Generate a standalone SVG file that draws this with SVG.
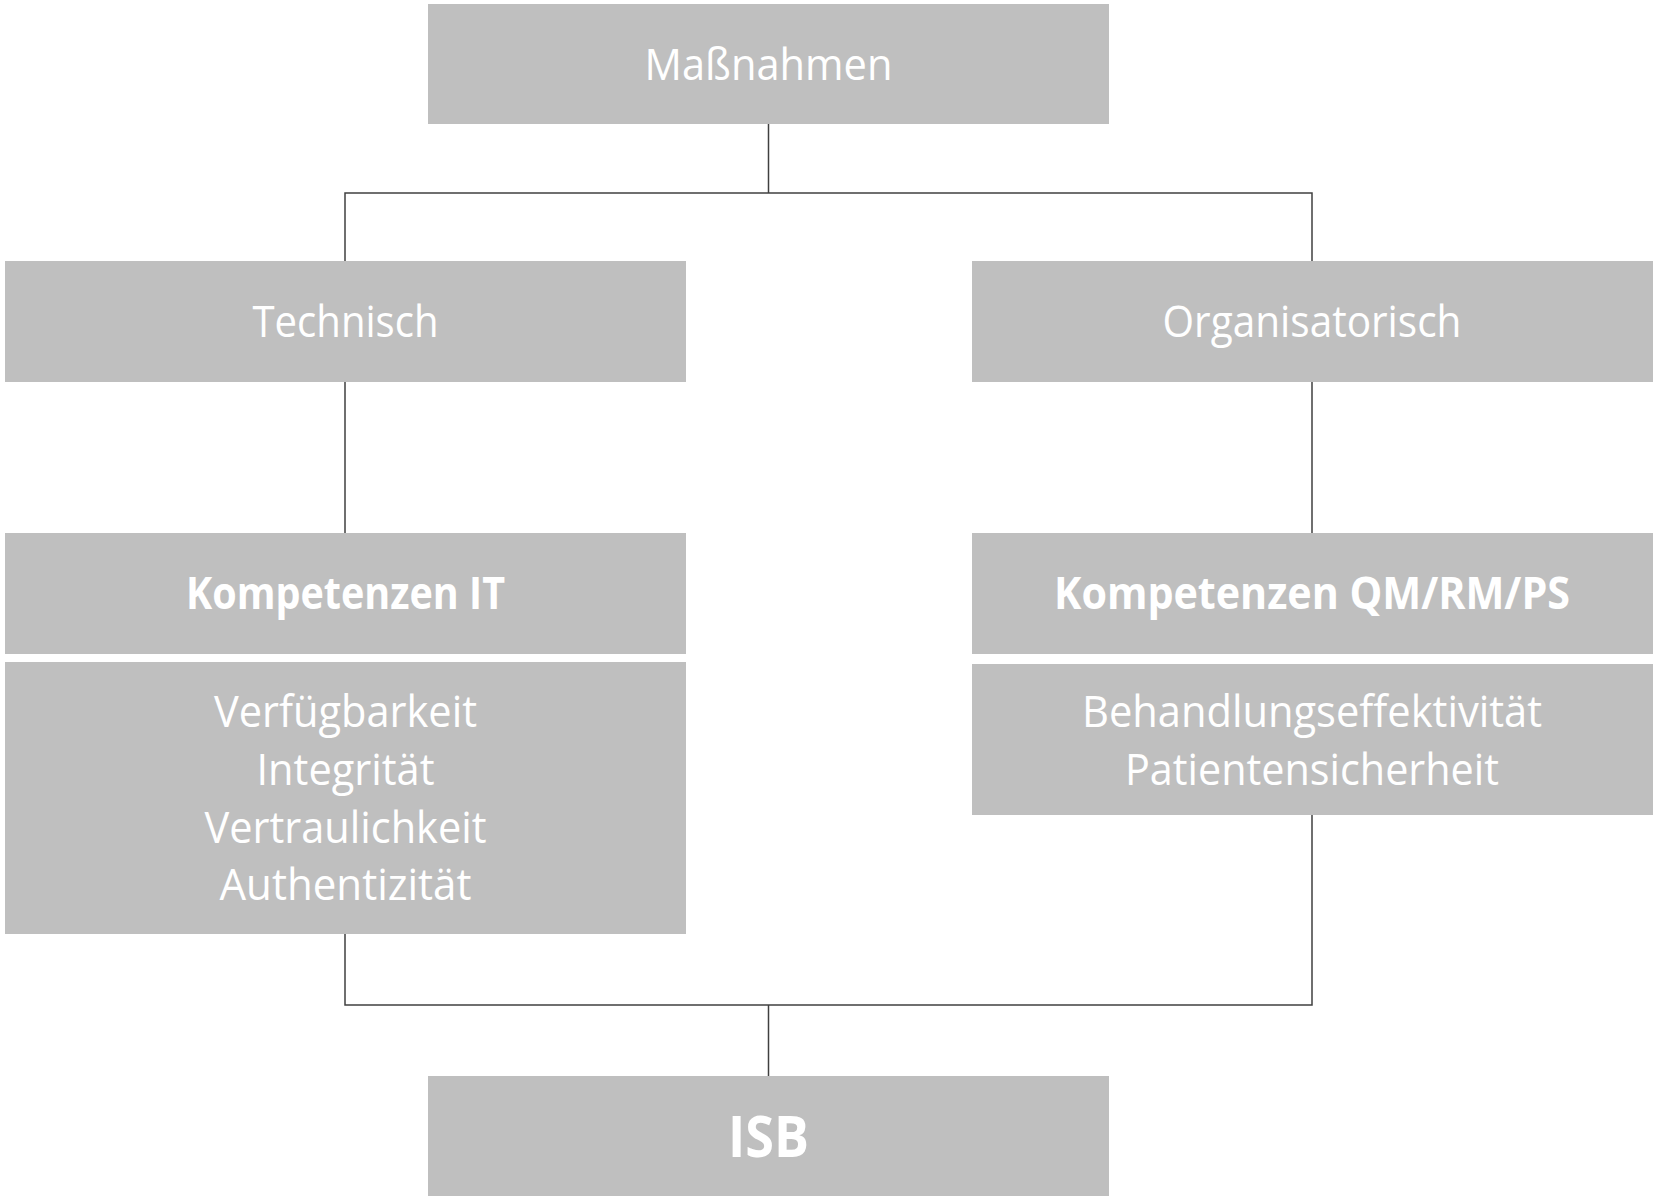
<svg xmlns="http://www.w3.org/2000/svg" width="1653" height="1196" viewBox="0 0 1653 1196">
<style>
.box{fill:#BFBFBF}
.t{font-family:"Open Sans","Noto Sans","Liberation Sans",sans-serif;fill:#FFFFFF;text-anchor:middle;font-size:44px}
.b{font-weight:bold}
.c{fill:none;stroke:#404040;stroke-width:1.5}
</style>
<rect width="1653" height="1196" fill="#FFFFFF"/>
<g id="connectors">
<path class="c" d="M768.5 124 V193 M345 261 V193 H1312 V261"/>
<path class="c" d="M345 382 V533 M1312 382 V533"/>
<path class="c" d="M345 934 V1005 H1312 V815 M768.5 1005 V1076"/>
</g>
<g id="massnahmen">
<rect class="box" x="428" y="4" width="681" height="120"/>
<text class="t" x="768.5" y="80" textLength="248" lengthAdjust="spacingAndGlyphs">Maßnahmen</text>
</g>
<g id="technisch">
<rect class="box" x="5" y="261" width="681" height="121"/>
<text class="t" x="345.5" y="337" textLength="186" lengthAdjust="spacingAndGlyphs">Technisch</text>
</g>
<g id="organisatorisch">
<rect class="box" x="972" y="261" width="681" height="121"/>
<text class="t" x="1312" y="337" textLength="299" lengthAdjust="spacingAndGlyphs">Organisatorisch</text>
</g>
<g id="kompetenzen-it">
<rect class="box" x="5" y="533" width="681" height="121"/>
<text class="t b" x="345.5" y="609" textLength="319" lengthAdjust="spacingAndGlyphs">Kompetenzen IT</text>
</g>
<g id="it-ziele">
<rect class="box" x="5" y="662" width="681" height="272"/>
<text class="t" x="345.5" y="727" textLength="263" lengthAdjust="spacingAndGlyphs">Verfügbarkeit</text>
<text class="t" x="345.5" y="785" textLength="178" lengthAdjust="spacingAndGlyphs">Integrität</text>
<text class="t" x="345.5" y="843" textLength="282" lengthAdjust="spacingAndGlyphs">Vertraulichkeit</text>
<text class="t" x="345.5" y="900" textLength="252" lengthAdjust="spacingAndGlyphs">Authentizität</text>
</g>
<g id="kompetenzen-qm">
<rect class="box" x="972" y="533" width="681" height="121"/>
<text class="t b" x="1312" y="609" textLength="516" lengthAdjust="spacingAndGlyphs">Kompetenzen QM/RM/PS</text>
</g>
<g id="qm-ziele">
<rect class="box" x="972" y="664" width="681" height="151"/>
<text class="t" x="1312" y="727" textLength="460" lengthAdjust="spacingAndGlyphs">Behandlungseffektivität</text>
<text class="t" x="1312" y="785" textLength="374" lengthAdjust="spacingAndGlyphs">Patientensicherheit</text>
</g>
<g id="isb">
<rect class="box" x="428" y="1076" width="681" height="120"/>
<text class="t b" x="768.5" y="1157" font-size="58" textLength="81" lengthAdjust="spacingAndGlyphs" style="font-size:58px">ISB</text>
</g>
</svg>
